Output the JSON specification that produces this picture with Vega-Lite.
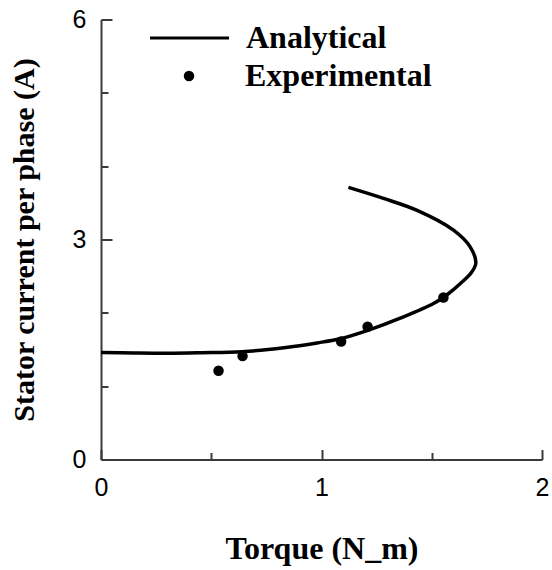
{
  "$schema": "https://vega.github.io/schema/vega-lite/v6.json",
  "width": 441,
  "height": 440,
  "autosize": {"type": "none"},
  "padding": {"left": 101, "top": 19.5, "right": 10, "bottom": 110},
  "background": "white",
  "config": {
    "view": {"stroke": null},
    "axis": {
      "grid": false,
      "domainColor": "#3a3a3a",
      "domainWidth": 2,
      "tickColor": "#3a3a3a",
      "tickWidth": 2,
      "labelFont": "Liberation Sans",
      "labelFontSize": 25,
      "labelColor": "black",
      "titleFont": "Liberation Serif",
      "titleFontWeight": "bold",
      "titleColor": "black"
    },
    "legend": {
      "labelFont": "Liberation Serif",
      "labelFontWeight": "bold",
      "labelFontSize": 32,
      "labelColor": "black",
      "labelLimit": 0,
      "padding": 0
    }
  },
  "datasets": {
    "analytical": [
      {"step": 1, "torque": 0.0, "current": 1.46},
      {"step": 2, "torque": 0.15, "current": 1.452},
      {"step": 3, "torque": 0.3, "current": 1.448},
      {"step": 4, "torque": 0.45, "current": 1.455},
      {"step": 5, "torque": 0.64, "current": 1.47},
      {"step": 6, "torque": 0.83, "current": 1.525},
      {"step": 7, "torque": 0.98, "current": 1.59},
      {"step": 8, "torque": 1.09, "current": 1.65},
      {"step": 9, "torque": 1.21, "current": 1.76},
      {"step": 10, "torque": 1.36, "current": 1.93},
      {"step": 11, "torque": 1.51, "current": 2.13},
      {"step": 12, "torque": 1.575, "current": 2.26},
      {"step": 13, "torque": 1.63, "current": 2.4},
      {"step": 14, "torque": 1.68, "current": 2.55},
      {"step": 15, "torque": 1.7, "current": 2.68},
      {"step": 16, "torque": 1.674, "current": 2.9},
      {"step": 17, "torque": 1.597, "current": 3.13},
      {"step": 18, "torque": 1.431, "current": 3.4},
      {"step": 19, "torque": 1.281, "current": 3.56},
      {"step": 20, "torque": 1.122, "current": 3.71}
    ],
    "experimental": [
      {"torque": 0.533, "current": 1.21},
      {"torque": 0.642, "current": 1.41},
      {"torque": 1.089, "current": 1.61},
      {"torque": 1.209, "current": 1.81},
      {"torque": 1.553, "current": 2.21}
    ]
  },
  "encoding": {
    "x": {
      "field": "torque",
      "type": "quantitative",
      "scale": {"domain": [0, 2], "nice": false, "zero": false},
      "axis": {
        "title": "Torque (N_m)",
        "titleFontSize": 32,
        "titlePadding": 30,
        "values": [0, 0.5, 1, 1.5, 2],
        "labelExpr": "datum.value % 1 === 0 ? format(datum.value, 'd') : ''",
        "tickSize": {"condition": {"test": "datum.value % 1 === 0", "value": -10}, "value": -7},
        "labelPadding": 26,
        "labelFlush": false,
        "labelOverlap": false
      }
    },
    "y": {
      "field": "current",
      "type": "quantitative",
      "scale": {"domain": [0, 6], "nice": false, "zero": false},
      "axis": {
        "title": "Stator current per phase (A)",
        "titleFontSize": 30,
        "titlePadding": 33,
        "values": [0, 1, 2, 3, 4, 5, 6],
        "labelExpr": "datum.value % 3 === 0 ? format(datum.value, 'd') : ''",
        "tickSize": {"condition": {"test": "datum.value % 3 === 0", "value": -11}, "value": -7},
        "labelPadding": 26,
        "labelFlush": false,
        "labelOverlap": false
      }
    }
  },
  "layer": [
    {
      "data": {"name": "analytical"},
      "mark": {"type": "line", "interpolate": "catmull-rom", "strokeWidth": 3.5, "color": "black"},
      "encoding": {
        "order": {"field": "step", "type": "quantitative"},
        "color": {
          "datum": "Analytical",
          "scale": {"range": ["black"]},
          "legend": {
            "title": null,
            "orient": "none",
            "legendX": 47.5,
            "legendY": -22.5,
            "symbolType": "stroke",
            "symbolSize": 6241,
            "symbolStrokeWidth": 3,
            "symbolStrokeColor": "black",
            "labelOffset": 15.5
          }
        }
      }
    },
    {
      "data": {"name": "experimental"},
      "mark": {"type": "point", "filled": true, "size": 110, "color": "black", "opacity": 1},
      "encoding": {
        "shape": {
          "datum": "Experimental",
          "scale": {"range": ["circle"]},
          "legend": {
            "title": null,
            "orient": "none",
            "legendX": 72,
            "legendY": 40.5,
            "symbolType": "circle",
            "symbolSize": 110,
            "symbolFillColor": "black",
            "symbolStrokeWidth": 0,
            "symbolOpacity": 1,
            "labelOffset": 40
          }
        }
      }
    }
  ]
}
